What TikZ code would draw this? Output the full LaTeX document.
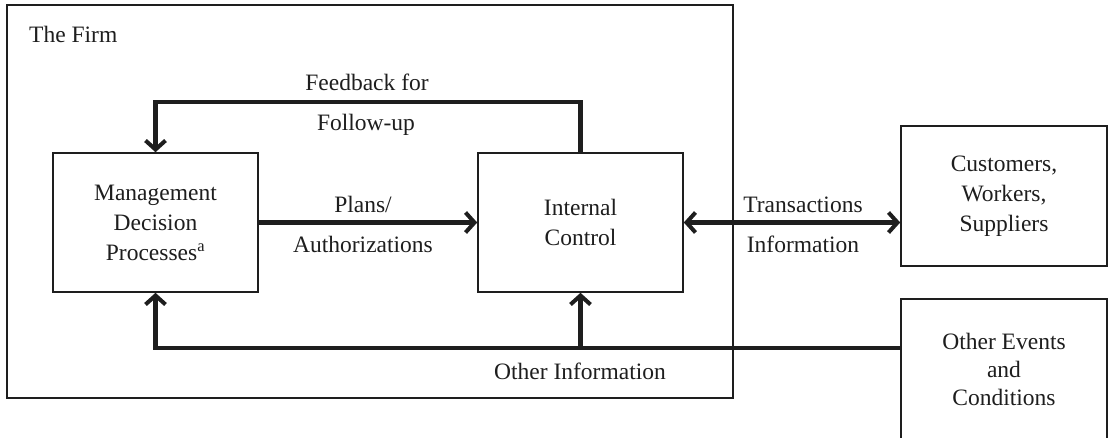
\documentclass[tikz,border=0pt]{standalone}
\usepackage{fontspec}
\setmainfont{Liberation Serif}
\usetikzlibrary{arrows.meta}
\definecolor{ink}{HTML}{1E1E1E}
\tikzset{
  box/.style={draw=ink, line width=1.6pt, inner sep=0pt, align=center,
    font=\fontsize{23.5}{30}\selectfont, text=ink},
  lbl/.style={inner sep=0pt, anchor=base, font=\fontsize{23.5}{30}\selectfont, text=ink},
  flow/.style={draw=ink, line width=4.5pt,
    -{Straight Barb[length=9pt,width=20pt,line width=4pt]}},
  flowtwo/.style={draw=ink, line width=4.5pt,
    {Straight Barb[length=9pt,width=20pt,line width=4pt]}-{Straight Barb[length=9pt,width=20pt,line width=4pt]}},
  plain/.style={draw=ink, line width=4.5pt}
}
\begin{document}
\begin{tikzpicture}[x=1pt,y=-1pt]
\clip (0,0) rectangle (1109,437);
\fill[white] (0,0) rectangle (1109,437);
% the firm
\node[box, minimum width=726, minimum height=393] (firm) at (370,201.5) {};
\node[lbl, anchor=base west] (firmlbl) at (29,42) {The Firm};
% boxes
\node[box, minimum width=205, minimum height=139] (mgmt) at (155.5,222.5)
  {Management\\Decision\\Processes\textsuperscript{a}};
\node[box, minimum width=205, minimum height=139] (ic) at (580.5,222.5)
  {Internal\\Control};
\node[box, minimum width=206, minimum height=140] (cust) at (1004,196)
  {Customers,\\Workers,\\Suppliers};
\node[box, minimum width=206, minimum height=141, font=\fontsize{23.5}{28}\selectfont] (oe) at (1004,369.5)
  {Other Events\\and\\Conditions};
% connectors
\draw[flow] (mgmt) -- (ic);
\coordinate (tc) at (ic.east -| cust.west);
\draw[flowtwo] (ic.east) -- (tc);
\draw[flow] (ic.north) -- ++(0,-50) -| (mgmt.north);
\coordinate (oi) at (oe.west |- 0,348);
\draw[flow] (oi) -| (mgmt.south);
\coordinate (oj) at (ic.south |- oi);
\draw[flow] (oj) -- (ic.south);
% labels
\node[lbl] (fb1) at (367,90) {Feedback for};
\node[lbl] (fb2) at (366,130) {Follow-up};
\node[lbl] (pl1) at (363,212) {Plans/};
\node[lbl] (pl2) at (363,252) {Authorizations};
\node[lbl] (tr1) at (803,212) {Transactions};
\node[lbl] (tr2) at (803,252) {Information};
\node[lbl] (oin) at (580,379) {Other Information};
\end{tikzpicture}
\end{document}
